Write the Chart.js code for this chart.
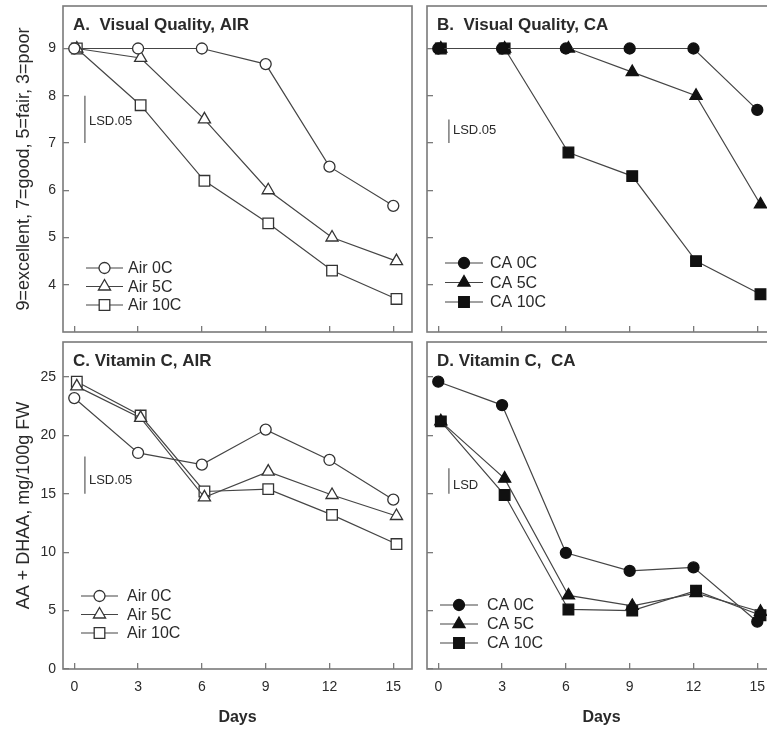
<!DOCTYPE html>
<html>
<head>
<meta charset="utf-8">
<script src="https://cdn.jsdelivr.net/npm/chart.js@4.4.1/dist/chart.umd.min.js"></script>
<style>
  html, body { margin: 0; padding: 0; background: #fff; overflow: hidden; }
  #wrap { position: relative; width: 767px; height: 730px; overflow: hidden; }
  canvas { position: absolute; }
</style>
</head>
<body>
<div id="wrap">
  <canvas id="panelA" width="416" height="336" style="left:0;top:0"></canvas>
  <canvas id="panelB" width="364" height="336" style="left:412px;top:0"></canvas>
  <canvas id="panelC" width="416" height="394" style="left:0;top:336px"></canvas>
  <canvas id="panelD" width="364" height="394" style="left:412px;top:336px"></canvas>
</div>
<script>
// ---------- Data ---------- //
const days = [0, 3, 6, 9, 12, 15];
const daysShifted = [0.12, 3.12, 6.12, 9.12, 12.12, 15.15]; // triangles+squares sit a bit right
const dayTicks = [0, 3, 6, 9, 12, 15];
const qualityTicks = [4, 5, 6, 7, 8, 9];
const vitcTicks = [0, 5, 10, 15, 20, 25];

// A. Visual quality, air
const qualityAir0 = [9, 9, 9, 8.67, 6.5, 5.67];
const qualityAir5 = [9, 8.8, 7.5, 6.0, 5.0, 4.5];
const qualityAir10 = [9, 7.8, 6.2, 5.3, 4.3, 3.7];

// B. Visual quality, CA
const qualityCA0 = [9, 9, 9, 9, 9, 7.7];
const qualityCA5 = [9, 9, 9, 8.5, 8.0, 5.7];
const qualityCA10 = [9, 9, 6.8, 6.3, 4.5, 3.8];

// C. Vitamin C, air
const vitcAir0 = [23.2, 18.5, 17.5, 20.5, 17.9, 14.5];
const vitcAir5 = [24.2, 21.5, 14.7, 16.9, 14.9, 13.1];
const vitcAir10 = [24.6, 21.7, 15.2, 15.4, 13.2, 10.7];

// D. Vitamin C, CA
const vitcCA0 = [24.6, 22.6, 9.95, 8.4, 8.7, 4.05];
const vitcCA5 = [21.2, 16.3, 6.3, 5.4, 6.5, 4.9];
const vitcCA10 = [21.2, 14.9, 5.1, 5.0, 6.7, 4.6];

// LSD bars (low, high) drawn at lsdDay
const lsdDay = 0.5;
const lsdQualityAir = [7.0, 8.0];
const lsdQualityCA = [7.0, 7.5];
const lsdVitcAir = [15.0, 18.2];
const lsdVitcCA = [15.0, 17.2];

const airLabels = ["Air 0C", "Air 5C", "Air 10C"];
const caLabels = ["CA 0C", "CA 5C", "CA 10C"];

// ---------- Styles ---------- //
const FONT = '"Liberation Sans", Arial, sans-serif';
const lineColor = '#454545';
const frameColor = '#7a7a7a';
const textColor = '#2a2a2a';
const markerStyles = [
  { pointStyle: 'circle', radius: 5.5 },
  { pointStyle: 'triangle', radius: 7 },
  { pointStyle: 'rect', radius: 7.5 }
];

function toPoints(xs, ys) {
  return ys.map((y, i) => ({ x: xs[i], y: y }));
}

function buildDatasets(labels, series, filled, lsd) {
  const sets = series.map((ys, i) => ({
    label: labels[i],
    data: toPoints(i === 0 ? days : daysShifted, ys),
    borderColor: lineColor,
    borderWidth: 1.2,
    tension: 0,
    pointStyle: markerStyles[i].pointStyle,
    pointRadius: markerStyles[i].radius,
    pointBorderWidth: 1.3,
    pointBorderColor: filled ? '#111' : '#333',
    pointBackgroundColor: filled ? '#111' : '#fff'
  }));
  sets.push({
    label: 'LSD',
    isLsd: true,
    data: toPoints([lsdDay, lsdDay], lsd),
    borderColor: '#666',
    borderWidth: 1.3,
    pointRadius: 0
  });
  return sets;
}

function drawMarker(ctx, style, radius, x, y) {
  if (window.Chart && Chart.helpers && Chart.helpers.drawPoint) {
    Chart.helpers.drawPoint(ctx, { pointStyle: style, radius: radius, borderWidth: ctx.lineWidth, rotation: 0 }, x, y);
    return;
  }
  ctx.beginPath();
  if (style === 'circle') {
    ctx.arc(x, y, radius, 0, Math.PI * 2);
  } else if (style === 'rect') {
    const s = radius / Math.SQRT2;
    ctx.rect(x - s, y - s, 2 * s, 2 * s);
  } else {
    for (let k = 0; k < 3; k++) {
      const ang = -Math.PI / 2 + k * 2 * Math.PI / 3;
      const px = x + Math.cos(ang) * radius, py = y + Math.sin(ang) * radius;
      k === 0 ? ctx.moveTo(px, py) : ctx.lineTo(px, py);
    }
    ctx.closePath();
  }
  ctx.fill();
  ctx.stroke();
}

// frame, panel title, LSD label and inline legend
const panelDeco = {
  id: 'panelDeco',
  beforeDatasetsDraw(chart) {
    const { ctx, chartArea: a } = chart;
    ctx.save();
    ctx.strokeStyle = frameColor;
    ctx.lineWidth = 1.6;
    ctx.strokeRect(a.left, a.top, a.right - a.left, a.bottom - a.top);
    ctx.restore();
  },
  afterDatasetsDraw(chart, args, opts) {
    const { ctx, chartArea: a, scales } = chart;
    ctx.save();
    ctx.fillStyle = textColor;
    ctx.textBaseline = 'middle';
    ctx.font = 'bold 17px ' + FONT;
    ctx.fillText(opts.title, a.left + 10, a.top + 19);

    // LSD text next to its bar
    const lsd = chart.data.datasets.find(d => d.isLsd);
    if (lsd) {
      const x = scales.x.getPixelForValue(lsd.data[0].x);
      const yMid = (scales.y.getPixelForValue(lsd.data[0].y) + scales.y.getPixelForValue(lsd.data[1].y)) / 2;
      ctx.font = '13px ' + FONT;
      ctx.fillText(opts.lsdText, x + 4, yMid + opts.lsdDy);
    }

    // legend
    const lg = opts.legend;
    chart.data.datasets.filter(d => !d.isLsd).forEach((ds, i) => {
      const y = a.top + lg.top + i * lg.step;
      ctx.strokeStyle = ds.borderColor;
      ctx.lineWidth = 1.2;
      ctx.beginPath();
      ctx.moveTo(a.left + lg.x1, y);
      ctx.lineTo(a.left + lg.x2, y);
      ctx.stroke();
      ctx.fillStyle = ds.pointBackgroundColor;
      ctx.strokeStyle = ds.pointBorderColor;
      ctx.lineWidth = ds.pointBorderWidth;
      drawMarker(ctx, ds.pointStyle, ds.pointRadius, a.left + (lg.x1 + lg.x2) / 2, y);
      ctx.fillStyle = textColor;
      ctx.font = '16px ' + FONT;
      ctx.fillText(ds.label, a.left + lg.textX, y + 1);
    });
    ctx.restore();
  }
};

// keep the plot box fixed: no extra room reserved for edge labels
function pinScale(s, size) {
  if (s.isHorizontal()) s.height = size; else s.width = size;
  s.paddingTop = 0;
  s.paddingBottom = 0;
  s.paddingLeft = 0;
  s.paddingRight = 0;
}

function makePanel(id, p) {
  const ctx = document.getElementById(id).getContext('2d');
  return new Chart(ctx, {
    type: 'line',
    data: { datasets: p.datasets },
    plugins: [panelDeco],
    options: {
      responsive: false,
      animation: false,
      layout: { autoPadding: false, padding: { top: 6, right: p.padRight, bottom: 0, left: 0 } },
      scales: {
        x: {
          type: 'linear',
          min: -0.53,
          max: 15.88,
          afterBuildTicks: s => { s.ticks = dayTicks.map(v => ({ value: v })); },
          afterFit: s => pinScale(s, p.xHeight),
          ticks: { display: p.xLabels, padding: 16, color: textColor, font: { family: FONT, size: 14 } },
          grid: { drawOnChartArea: false, tickLength: -6, color: frameColor, lineWidth: 1.3 },
          border: { display: false },
          title: { display: p.xLabels, text: 'Days', color: textColor, padding: { bottom: 3 },
                   font: { family: FONT, size: 16, weight: 'bold' } }
        },
        y: {
          type: 'linear',
          min: p.yMin,
          max: p.yMax,
          afterBuildTicks: s => { s.ticks = p.yTicks.map(v => ({ value: v })); },
          afterFit: s => pinScale(s, p.yWidth),
          ticks: { display: !!p.yTitle, padding: 13, color: textColor, font: { family: FONT, size: 14 } },
          grid: { drawOnChartArea: false, tickLength: -6, color: frameColor, lineWidth: 1.3 },
          border: { display: false },
          title: { display: !!p.yTitle, text: p.yTitle, color: textColor, padding: { top: 13 },
                   font: { family: FONT, size: 18 } }
        }
      },
      plugins: {
        legend: { display: false },
        tooltip: { enabled: false },
        panelDeco: { title: p.title, lsdText: p.lsdText, lsdDy: p.lsdDy, legend: p.legend }
      }
    }
  });
}

makePanel('panelA', {
  title: 'A.  Visual Quality, AIR',
  datasets: buildDatasets(airLabels, [qualityAir0, qualityAir5, qualityAir10], false, lsdQualityAir),
  yMin: 3, yMax: 9.9, yTicks: qualityTicks,
  yTitle: '9=excellent, 7=good, 5=fair, 3=poor',
  yWidth: 63, xHeight: 4, xLabels: false, padRight: 4,
  lsdText: 'LSD.05', lsdDy: 2,
  legend: { top: 262, step: 18.5, x1: 23, x2: 60, textX: 65 }
});

makePanel('panelB', {
  title: 'B.  Visual Quality, CA',
  datasets: buildDatasets(caLabels, [qualityCA0, qualityCA5, qualityCA10], true, lsdQualityCA),
  yMin: 3, yMax: 9.9, yTicks: qualityTicks,
  yTitle: '',
  yWidth: 15, xHeight: 4, xLabels: false, padRight: 0,
  lsdText: 'LSD.05', lsdDy: -1,
  legend: { top: 257, step: 19.5, x1: 18, x2: 56, textX: 63 }
});

makePanel('panelC', {
  title: 'C. Vitamin C, AIR',
  datasets: buildDatasets(airLabels, [vitcAir0, vitcAir5, vitcAir10], false, lsdVitcAir),
  yMin: 0, yMax: 28, yTicks: vitcTicks,
  yTitle: 'AA + DHAA, mg/100g FW',
  yWidth: 63, xHeight: 61, xLabels: true, padRight: 4,
  lsdText: 'LSD.05', lsdDy: 5,
  legend: { top: 254, step: 18.5, x1: 18, x2: 55, textX: 64 }
});

makePanel('panelD', {
  title: 'D. Vitamin C,  CA',
  datasets: buildDatasets(caLabels, [vitcCA0, vitcCA5, vitcCA10], true, lsdVitcCA),
  yMin: 0, yMax: 28, yTicks: vitcTicks,
  yTitle: '',
  yWidth: 15, xHeight: 61, xLabels: true, padRight: 0,
  lsdText: 'LSD', lsdDy: 4,
  legend: { top: 263, step: 19, x1: 13, x2: 51, textX: 60 }
});
</script>
</body>
</html>
